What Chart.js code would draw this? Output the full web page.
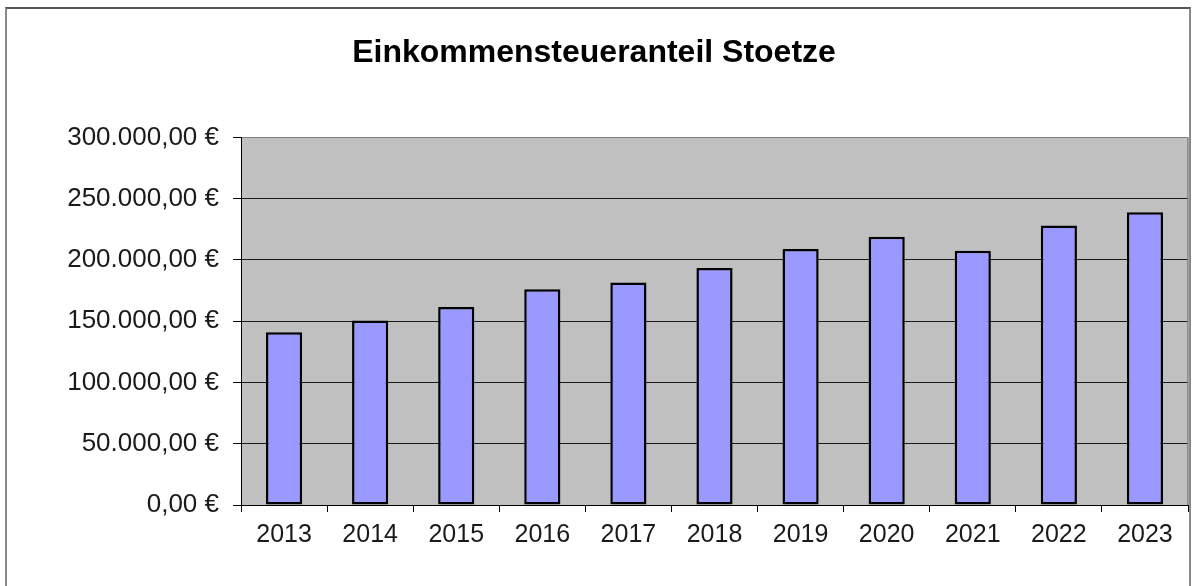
<!DOCTYPE html>
<html>
<head>
<meta charset="utf-8">
<script src="https://cdn.jsdelivr.net/npm/chart.js@4/dist/chart.umd.min.js"></script>
<style>
  html, body { margin: 0; padding: 0; background: #fff; }
  #wrap { position: relative; width: 1192px; height: 586px; overflow: hidden; }
  #frame { position: absolute; left: 5px; top: 7px; width: 1182px; height: 620px;
           border-left: 2px solid #8a8a8a; border-right: 2px solid #8a8a8a; border-top: 2px solid #555; pointer-events: none; }
  canvas { position: absolute; left: 0; top: 0; }
</style>
</head>
<body>
<div id="wrap">
  <canvas id="c" width="1192" height="586"></canvas>
  <div id="frame"></div>
</div>
<script>
const chartTitle = 'Einkommensteueranteil Stoetze';
const categories = ['2013','2014','2015','2016','2017','2018','2019','2020','2021','2022','2023'];
const values = [141000, 150500, 161500, 176000, 181500, 193500, 209000, 219000, 207500, 228000, 239000];
const yTickValues = [0, 50000, 100000, 150000, 200000, 250000, 300000];
const yTickLabels = ['0,00 €', '50.000,00 €', '100.000,00 €', '150.000,00 €', '200.000,00 €', '250.000,00 €', '300.000,00 €'];

const FONT = "'Liberation Sans', Arial, sans-serif";

const plotBg = {
  id: 'plotBg',
  beforeDraw(chart) {
    const {ctx, chartArea: a} = chart;
    ctx.save();
    ctx.fillStyle = '#c0c0c0';
    ctx.fillRect(a.left, a.top, a.right - a.left, a.bottom - a.top);
    ctx.restore();
  },
  afterDraw(chart) {
    const {ctx, chartArea: a} = chart;
    ctx.save();
    ctx.strokeStyle = '#808080';
    ctx.lineWidth = 1.5;
    ctx.beginPath();
    ctx.moveTo(a.right, a.top);
    ctx.lineTo(a.right, a.bottom);
    ctx.stroke();
    ctx.restore();
  }
};

new Chart(document.getElementById('c'), {
  type: 'bar',
  data: {
    labels: categories,
    datasets: [{
      data: values,
      backgroundColor: '#9999ff',
      borderColor: '#000',
      borderWidth: 2.5,
      borderSkipped: false,
      categoryPercentage: 1,
      barPercentage: 0.42
    }]
  },
  options: {
    responsive: false,
    animation: false,
    devicePixelRatio: 1,
    layout: { padding: { left: 0, right: 4, top: 0, bottom: 0 } },
    plugins: {
      legend: { display: false },
      tooltip: { enabled: false },
      title: {
        display: true,
        text: chartTitle,
        color: '#000',
        font: { family: FONT, size: 32, weight: 'bold' },
        padding: { top: 34, bottom: 65 }
      }
    },
    scales: {
      x: {
        afterFit(scale) { scale.height = 81; },
        grid: { drawOnChartArea: false, drawTicks: true, tickLength: 7, color: '#000', offset: true },
        border: { color: '#000', width: 1 },
        ticks: { color: '#1a1a1a', padding: 8, font: { family: FONT, size: 25 } }
      },
      y: {
        min: 0,
        max: 300000,
        afterFit(scale) { scale.width = 241; },
        afterBuildTicks(scale) { scale.ticks = yTickValues.map(v => ({ value: v })); },
        grid: {
          tickLength: 8,
          color: ctx => (ctx.tick && ctx.tick.value === 300000) ? '#808080' : '#1a1a1a',
          tickColor: '#000',
          lineWidth: 1
        },
        border: { color: '#000', width: 1 },
        ticks: {
          color: '#1a1a1a',
          padding: 14,
          font: { family: FONT, size: 26 },
          callback: v => yTickLabels[yTickValues.indexOf(v)]
        }
      }
    }
  },
  plugins: [plotBg]
});
</script>
</body>
</html>
